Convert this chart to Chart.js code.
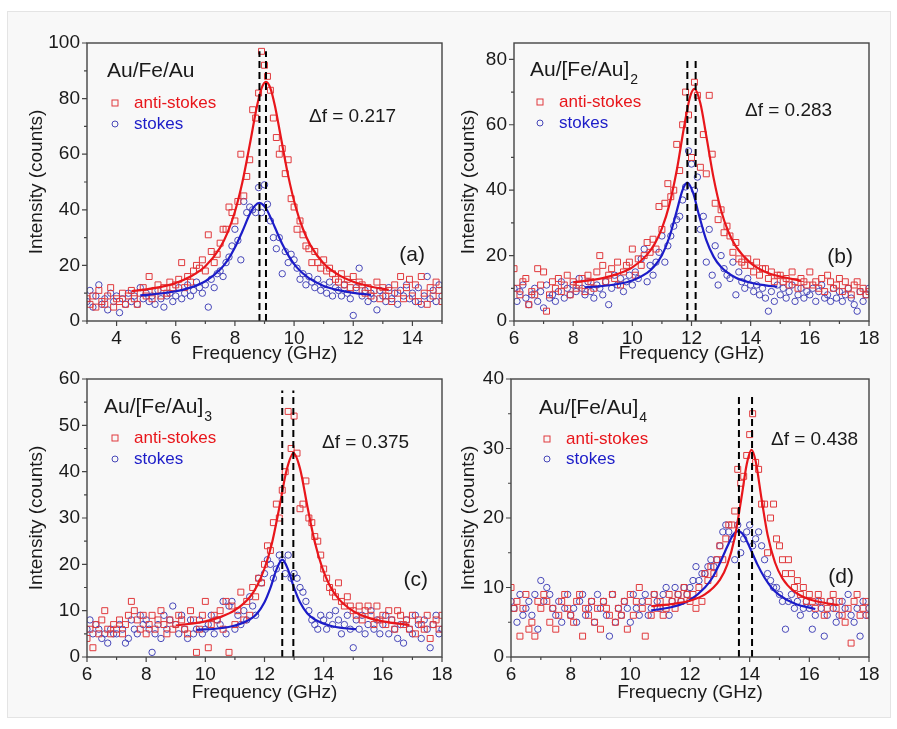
<!DOCTYPE html>
<html>
<head>
<meta charset="utf-8">
<script src="https://cdn.jsdelivr.net/npm/chart.js@4/dist/chart.umd.min.js"></script>
<style>
  body { margin: 0; background: #fff; width: 897px; height: 729px; overflow: hidden; }
  #sheet { position: absolute; left: 7px; top: 11px; width: 882px; height: 705px; background: #f8f8f8; border: 1px solid #e4e4e4; }
  canvas { position: absolute; }
</style>
</head>
<body>
<div id="sheet"></div>
<canvas id="chartA" width="470" height="370" style="left:0px;top:0px"></canvas>
<canvas id="chartB" width="449" height="370" style="left:448px;top:0px"></canvas>
<canvas id="chartC" width="470" height="369" style="left:0px;top:360px"></canvas>
<canvas id="chartD" width="449" height="369" style="left:448px;top:360px"></canvas>
<script>
// frequency channels: first channel of each panel, spacing 0.1 GHz
const freqStep = 0.1;
const startA = 3.0, startB = 6.0, startC = 6.0, startD = 6.0;

// ---- (a) Au/Fe/Au ----
const antiA = [8,6,9,5,11,7,6,9,12,5,8,7,10,6,9,
  11,8,6,10,12,9,16,8,11,13,9,12,10,14,12,
  13,15,21,12,16,14,18,20,19,22,
  18,31,25,21,24,28,33,33,41,39,
  36,43,60,45,52,58,76,73,82,97,
  92,88,83,73,66,60,62,53,58,44,
  41,33,36,31,27,26,21,25,21,19,
  22,18,19,17,15,14,17,13,15,12,
  16,11,14,13,10,12,9,11,14,8,
  12,9,11,7,13,10,16,8,12,15,
  9,13,7,16,10,6,12,9,14,11,7];
const stokesA = [7,11,5,9,13,6,8,4,10,7,9,3,8,6,10,
  7,9,6,12,8,10,7,9,6,11,8,5,9,10,7,
  9,12,8,10,13,9,11,14,12,10,
  13,5,15,12,17,18,16,21,23,27,
  33,29,22,43,39,41,40,39,48,39,
  49,42,36,30,26,30,17,25,21,24,
  22,19,15,17,13,16,14,12,15,11,
  13,10,14,9,12,11,9,13,10,8,
  2,12,19,9,11,7,10,8,4,11,
  9,7,12,8,10,6,11,9,13,8,
  10,7,12,6,9,16,8,11,7,13,9];
const fitAntiAx = [4.5,5,5.5,6,6.5,7,7.5,7.75,8,8.25,8.5,8.75,8.9,9.05,9.2,9.35,9.55,9.8,10.05,10.3,10.55,11,11.5,12,12.5,13.2];
const fitAntiAy = [10.7,11.4,12.3,13.7,16.0,19.7,26.4,31.8,39.3,49.8,63.3,77.5,83.7,86,83.7,77.5,66.3,52.3,41.2,33.1,27.3,20.7,16.6,14.1,12.6,11.2];
const fitStokesAx = [4.8,5.5,6,6.5,7,7.5,7.75,8,8.25,8.5,8.68,8.83,8.98,9.1,9.35,9.6,9.85,10.1,10.5,11,11.5,12,12.6];
const fitStokesAy = [9.2,9.9,10.7,12.0,14.3,18.5,21.8,26.4,32.2,38.4,41.5,42.5,41.5,39.6,33.7,27.7,22.8,19.2,15.4,12.6,11.1,10.1,9.4];
const peaksA = [8.83, 9.05];
const dashTopA = 97;

// ---- (b) Au/[Fe/Au]2 ----
const antiB = [16,10,8,12,13,5,9,8,16,11,
  15,3,8,12,10,13,9,11,14,8,
  12,10,11,13,9,14,12,10,15,20,
  17,12,14,16,13,18,11,15,17,18,
  22,14,19,17,20,24,21,25,22,35,
  28,36,42,38,40,54,46,60,70,63,
  50,73,69,47,57,45,69,51,36,31,
  34,27,29,26,21,24,19,18,17,19,
  17,15,18,14,16,16,13,15,12,14,
  14,12,13,11,15,12,10,13,12,11,
  15,11,12,10,13,9,14,12,10,11,13,9,12,10,8,11,12,9,10,8,9];
const stokesB = [10,6,9,11,7,5,8,10,6,9,
  4,11,7,8,6,9,12,7,10,8,
  11,9,13,10,8,12,9,7,11,10,
  8,12,5,10,14,11,13,9,12,14,
  11,15,13,19,22,12,17,14,18,21,
  26,18,23,26,29,31,32,37,41,52,
  48,40,44,28,32,18,28,14,23,11,
  20,16,14,13,18,8,15,12,10,13,
  11,9,11,8,10,7,3,9,6,11,
  8,10,7,9,11,6,8,10,7,9,
  8,10,6,9,11,7,8,6,10,7,9,6,8,10,7,5,3,9,6,8,10];
const fitAntiBx = [8,9,9.5,10,10.5,10.75,11,11.25,11.5,11.75,11.95,12.1,12.3,12.5,12.75,13,13.25,13.5,14,14.5,15,15.7];
const fitAntiBy = [11.8,13.1,14.4,16.4,20.3,23.5,28.3,35.5,46,59.4,68.5,71,66.6,56.6,43.6,33.8,27.2,22.8,17.7,15.0,13.6,12.3];
const fitStokesBx = [8.4,9,9.5,10,10.5,10.75,11,11.25,11.5,11.7,11.86,12.05,12.25,12.5,12.75,13,13.5,14,14.5,14.9];
const fitStokesBy = [10.3,10.7,11.3,12.4,14.7,16.8,20.1,25.6,33.6,40.1,42.3,39.3,32.5,24.7,19.6,16.5,13.2,11.7,10.9,10.5];
const peaksB = [11.86, 12.14];
const dashTopB = 80.5;

// ---- (c) Au/[Fe/Au]3 ----
const antiC = [4,6,2,7,5,8,10,6,5,7,
  6,8,5,7,9,12,10,8,6,9,
  5,7,9,6,8,10,7,5,8,6,
  7,9,8,6,5,10,8,1,6,9,
  12,2,7,9,8,10,6,12,1,11,
  7,10,14,8,12,9,15,13,17,16,
  20,24,23,29,33,30,36,40,53,45,
  52,44,32,33,38,30,29,26,25,22,
  19,17,15,14,13,16,12,11,13,11,
  10,9,11,8,10,11,9,7,11,8,
  9,7,10,8,6,10,9,7,8,6,9,5,8,7,6,9,4,7,8,6,9];
const stokesC = [6,8,5,7,6,4,5,3,6,5,
  5,7,6,3,4,8,6,5,9,7,
  8,6,1,5,7,4,9,6,8,11,
  7,5,9,6,4,8,5,6,8,5,
  6,7,9,5,8,7,12,5,11,12,
  6,9,7,10,8,13,11,9,17,16,
  18,21,20,17,19,22,21,18,22,17,
  18,17,15,14,12,10,8,7,6,9,
  8,6,9,7,10,8,5,7,9,6,
  2,8,6,9,5,7,10,6,8,5,
  7,9,5,8,6,4,7,3,8,6,5,9,7,4,8,6,2,7,9,5,6];
const fitAntiCx = [9,10,10.5,11,11.5,11.75,12,12.25,12.5,12.75,12.98,13.2,13.45,13.7,13.95,14.2,14.5,15,15.5,16,16.9];
const fitAntiCy = [6.8,7.7,8.6,10.1,12.9,15.4,19.1,24.5,32.2,40.4,44,40.7,32.5,24.8,19.3,15.5,12.6,9.9,8.5,7.7,6.9];
const fitStokesCx = [9.7,10.5,11,11.5,11.75,12,12.2,12.4,12.6,12.8,13.0,13.2,13.45,13.7,14.2,14.7,15.1];
const fitStokesCy = [5.85,6.2,6.8,8.1,9.4,11.8,14.9,18.8,21,18.8,14.9,11.8,9.4,8.1,6.8,6.2,6.0];
const peaksC = [12.6, 12.975];
const dashTopC = 57.5;

// ---- (d) Au/[Fe/Au]4 ----
const antiD = [10,7,8,3,7,9,4,5,3,8,
  7,9,8,5,7,4,6,8,9,7,
  6,5,8,9,3,7,6,8,5,7,
  4,8,7,6,9,5,7,6,8,4,
  9,6,8,10,7,3,8,6,9,7,
  8,6,7,9,8,7,9,8,10,9,
  8,9,7,10,8,12,11,13,12,14,
  16,14,17,19,19,21,27,25,26,29,
  32,35,28,27,22,22,15,20,22,17,
  16,14,12,14,12,10,11,9,10,8,
  9,8,7,9,8,6,7,8,9,7,8,6,5,7,2,8,9,6,7,8,6];
const stokesD = [8,7,5,9,6,7,8,6,9,4,
  11,8,10,9,7,6,8,5,7,9,
  6,7,5,8,9,6,7,8,5,9,
  7,8,6,3,9,5,7,6,8,7,
  5,9,7,6,8,9,6,7,9,8,
  7,9,10,6,8,10,9,8,10,9,
  10,11,13,11,12,12,13,14,13,14,
  16,18,19,18,17,14,19,15,17,18,
  19,16,17,18,16,14,12,11,10,10,
  9,8,4,8,9,7,8,6,7,8,
  7,4,6,8,7,3,6,8,7,5,6,8,7,9,6,5,7,3,8,6,7];
const fitAntiDx = [10.7,11.5,12,12.5,13,13.25,13.5,13.75,13.9,14.06,14.2,14.4,14.6,14.85,15.1,15.5,16,16.5,16.95];
const fitAntiDy = [7.3,7.7,8.1,9.0,11.1,13.3,17.2,23.6,27.7,29.8,28.2,22.7,17.6,13.6,11.3,9.4,8.3,7.8,7.5];
const fitStokesDx = [10.7,11.5,12,12.5,12.75,13,13.25,13.45,13.62,13.8,14,14.25,14.5,14.75,15,15.5,16.2];
const fitStokesDy = [6.7,7.3,8.2,10.0,11.4,13.5,15.9,17.6,18.1,17.5,15.8,13.4,11.4,9.9,8.9,7.7,6.9];
const peaksD = [13.64, 14.08];
const dashTopD = 38;

// tick values
const xMajorA = [4,6,8,10,12,14], xMinorA = [3,5,7,9,11,13,15];
const xMajor = [6,8,10,12,14,16,18], xMinor = [7,9,11,13,15,17];
const yMajorA = [0,20,40,60,80,100], yMinorA = [10,30,50,70,90];
const yMajorB = [0,20,40,60,80], yMinorB = [10,30,50,70];
const yMajorC = [0,10,20,30,40,50,60], yMinorC = [5,15,25,35,45,55];
const yMajorD = [0,10,20,30,40], yMinorD = [5,15,25,35];

const FONT = '"Liberation Sans", Arial, Helvetica, sans-serif';
const RED = '#e8161b', BLUE = '#1c1cc8';
const RED_PT = '#e0393c', BLUE_PT = '#4646b8';
const INK = '#1a1a1a';

function channels(values, start) {
  return values.map((v, i) => ({ x: +(start + i * freqStep).toFixed(2), y: v }));
}
function pairs(xs, ys) {
  return xs.map((x, i) => ({ x: x, y: ys[i] }));
}

// frame, outward ticks with minor ticks, and the text labels
const decor = {
  id: 'decor',
  afterDraw(chart, args, o) {
    const ctx = chart.ctx, a = chart.chartArea;
    const xs = chart.scales.x, ys = chart.scales.y;
    ctx.save();
    ctx.strokeStyle = '#444';
    ctx.lineWidth = 1.4;
    ctx.strokeRect(a.left, a.top, a.right - a.left, a.bottom - a.top);
    ctx.lineWidth = 1.2;
    ctx.beginPath();
    o.xMajor.forEach(v => { const p = xs.getPixelForValue(v); ctx.moveTo(p, a.bottom); ctx.lineTo(p, a.bottom + 5); });
    o.xMinor.forEach(v => { const p = xs.getPixelForValue(v); ctx.moveTo(p, a.bottom); ctx.lineTo(p, a.bottom + 3); });
    o.yMajor.forEach(v => { const p = ys.getPixelForValue(v); ctx.moveTo(a.left, p); ctx.lineTo(a.left - 5, p); });
    o.yMinor.forEach(v => { const p = ys.getPixelForValue(v); ctx.moveTo(a.left, p); ctx.lineTo(a.left - 3, p); });
    ctx.stroke();

    ctx.textBaseline = 'middle';
    ctx.textAlign = 'left';
    // sample name
    ctx.fillStyle = INK;
    ctx.font = '21px ' + FONT;
    const nx = a.left + o.name[1], ny = a.top + o.name[2];
    ctx.fillText(o.name[0], nx, ny);
    if (o.sub) {
      const w = ctx.measureText(o.name[0]).width;
      ctx.font = '14px ' + FONT;
      ctx.fillText(o.sub, nx + w + 1, ny + 10);
    }
    // legend
    const lx = a.left + o.legend[0];
    const ly1 = a.top + o.legend[1], ly2 = a.top + o.legend[2];
    ctx.lineWidth = 1;
    ctx.strokeStyle = RED_PT;
    ctx.strokeRect(lx - 3, ly1 - 3, 6, 6);
    ctx.strokeStyle = BLUE_PT;
    ctx.beginPath();
    ctx.arc(lx, ly2, 3, 0, Math.PI * 2);
    ctx.stroke();
    ctx.font = '17px ' + FONT;
    ctx.fillStyle = RED;
    ctx.fillText('anti-stokes', lx + 19, ly1);
    ctx.fillStyle = BLUE;
    ctx.fillText('stokes', lx + 19, ly2);
    // frequency shift
    ctx.fillStyle = INK;
    ctx.font = '19px ' + FONT;
    ctx.fillText(o.shift[0], a.left + o.shift[1], a.top + o.shift[2]);
    // panel letter
    ctx.font = '21px ' + FONT;
    ctx.textAlign = 'right';
    ctx.fillText(o.letter[0], a.left + o.letter[1], a.top + o.letter[2]);
    ctx.restore();
  }
};

function makePanel(id, cfg) {
  const datasets = [
    { data: [{ x: cfg.peaks[0], y: 0 }, { x: cfg.peaks[0], y: cfg.dashTop }], showLine: true, borderColor: '#000',
      borderWidth: 2, borderDash: [7, 4], pointRadius: 0 },
    { data: [{ x: cfg.peaks[1], y: 0 }, { x: cfg.peaks[1], y: cfg.dashTop }], showLine: true, borderColor: '#000',
      borderWidth: 2, borderDash: [7, 4], pointRadius: 0 },
    { data: pairs(cfg.fitAx, cfg.fitAy), showLine: true, borderColor: RED, borderWidth: 2.2,
      pointRadius: 0, cubicInterpolationMode: 'monotone' },
    { data: pairs(cfg.fitSx, cfg.fitSy), showLine: true, borderColor: BLUE, borderWidth: 2.2,
      pointRadius: 0, cubicInterpolationMode: 'monotone' },
    { data: channels(cfg.anti, cfg.start), pointStyle: 'rect', pointRadius: 4.2, borderWidth: 1,
      borderColor: RED_PT, backgroundColor: 'rgba(0,0,0,0)' },
    { data: channels(cfg.stokes, cfg.start), pointStyle: 'circle', pointRadius: 3.2, borderWidth: 1,
      borderColor: BLUE_PT, backgroundColor: 'rgba(0,0,0,0)' }
  ];

  new Chart(document.getElementById(id), {
    type: 'scatter',
    data: { datasets: datasets },
    plugins: [decor],
    options: {
      responsive: false,
      animation: false,
      events: [],
      layout: { padding: { left: 0, top: cfg.padTop, right: cfg.padRight, bottom: 0 } },
      plugins: {
        legend: { display: false },
        tooltip: { enabled: false },
        decor: {
          xMajor: cfg.xMajor, xMinor: cfg.xMinor, yMajor: cfg.yMajor, yMinor: cfg.yMinor,
          name: cfg.name, sub: cfg.sub, legend: cfg.legend, shift: cfg.shift, letter: cfg.letter
        }
      },
      scales: {
        x: {
          type: 'linear', min: cfg.xMin, max: cfg.xMax,
          afterBuildTicks: s => { s.ticks = cfg.xMajor.map(v => ({ value: v })); },
          afterFit: s => { s.height = cfg.xHeight; },
          grid: { display: false, drawTicks: false },
          border: { display: false },
          ticks: { padding: 6, color: INK, font: { family: FONT, size: 19 }, maxRotation: 0, autoSkip: false },
          title: { display: true, text: cfg.xTitle, color: INK, font: { family: FONT, size: 19 },
            padding: { top: 0, bottom: cfg.xTitlePad } }
        },
        y: {
          type: 'linear', min: 0, max: cfg.yMax,
          afterBuildTicks: s => { s.ticks = cfg.yMajor.map(v => ({ value: v })); },
          afterFit: s => { s.width = cfg.yWidth; },
          grid: { display: false, drawTicks: false },
          border: { display: false },
          ticks: { padding: 7, color: INK, font: { family: FONT, size: 19 }, autoSkip: false },
          title: { display: true, text: 'Intensity (counts)', color: INK, font: { family: FONT, size: 19 },
            padding: { top: cfg.yTitlePad, bottom: 0 } }
        }
      }
    }
  });
}

makePanel('chartA', {
  start: startA, anti: antiA, stokes: stokesA,
  fitAx: fitAntiAx, fitAy: fitAntiAy, fitSx: fitStokesAx, fitSy: fitStokesAy,
  peaks: peaksA, dashTop: dashTopA,
  xMin: 3, xMax: 15, yMax: 100,
  xMajor: xMajorA, xMinor: xMinorA, yMajor: yMajorA, yMinor: yMinorA,
  padTop: 43, padRight: 28, xHeight: 49, yWidth: 87, xTitlePad: 4.6, yTitlePad: 25.6,
  xTitle: 'Frequency (GHz)',
  name: ['Au/Fe/Au', 20, 28], sub: '', legend: [28, 60, 81],
  shift: ['\u0394f = 0.217', 222, 74], letter: ['(a)', 338, 212]
});

makePanel('chartB', {
  start: startB, anti: antiB, stokes: stokesB,
  fitAx: fitAntiBx, fitAy: fitAntiBy, fitSx: fitStokesBx, fitSy: fitStokesBy,
  peaks: peaksB, dashTop: dashTopB,
  xMin: 6, xMax: 18, yMax: 85,
  xMajor: xMajor, xMinor: xMinor, yMajor: yMajorB, yMinor: yMinorB,
  padTop: 43, padRight: 28, xHeight: 49, yWidth: 66, xTitlePad: 4.6, yTitlePad: 9.6,
  xTitle: 'Frequency (GHz)',
  name: ['Au/[Fe/Au]', 16, 27], sub: '2', legend: [26, 59, 80],
  shift: ['\u0394f = 0.283', 231, 68], letter: ['(b)', 339, 214]
});

makePanel('chartC', {
  start: startC, anti: antiC, stokes: stokesC,
  fitAx: fitAntiCx, fitAy: fitAntiCy, fitSx: fitStokesCx, fitSy: fitStokesCy,
  peaks: peaksC, dashTop: dashTopC,
  xMin: 6, xMax: 18, yMax: 60,
  xMajor: xMajor, xMinor: xMinor, yMajor: yMajorC, yMinor: yMinorC,
  padTop: 19, padRight: 28, xHeight: 72, yWidth: 87, xTitlePad: 24.6, yTitlePad: 25.6,
  xTitle: 'Frequency (GHz)',
  name: ['Au/[Fe/Au]', 17, 28], sub: '3', legend: [28, 59, 80],
  shift: ['\u0394f = 0.375', 235, 64], letter: ['(c)', 341, 201]
});

makePanel('chartD', {
  start: startD, anti: antiD, stokes: stokesD,
  fitAx: fitAntiDx, fitAy: fitAntiDy, fitSx: fitStokesDx, fitSy: fitStokesDy,
  peaks: peaksD, dashTop: dashTopD,
  xMin: 6, xMax: 18, yMax: 40,
  xMajor: xMajor, xMinor: xMinor, yMajor: yMajorD, yMinor: yMinorD,
  padTop: 19, padRight: 28, xHeight: 72, yWidth: 63, xTitlePad: 24.6, yTitlePad: 9.6,
  xTitle: 'Frequecny (GHz)',
  name: ['Au/[Fe/Au]', 28, 29], sub: '4', legend: [36, 60, 80],
  shift: ['\u0394f = 0.438', 260, 61], letter: ['(d)', 343, 198]
});
</script>
</body>
</html>
